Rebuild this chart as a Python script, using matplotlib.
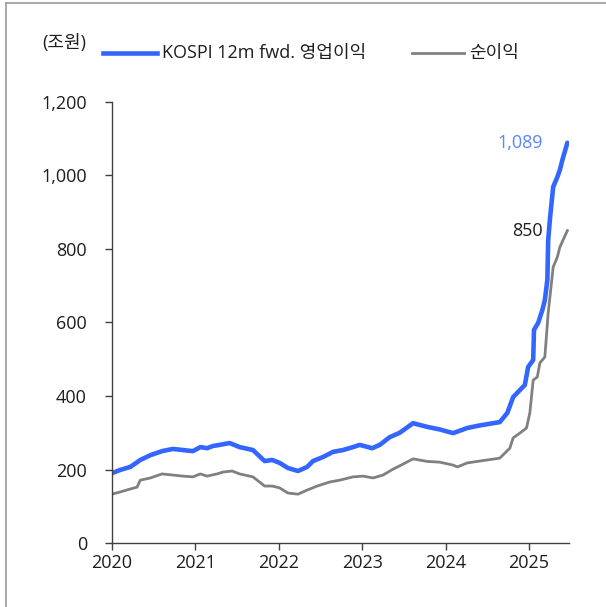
import matplotlib
matplotlib.use('Agg')
import matplotlib.pyplot as plt
from matplotlib.lines import Line2D

plt.rcParams['font.family'] = ['Open Sans', 'Noto Sans CJK KR', 'DejaVu Sans']

# KOSPI 12m fwd operating profit (blue)
op_x = [2020.00, 2020.10, 2020.22, 2020.34, 2020.46, 2020.60, 2020.73, 2020.85, 2020.97,
        2021.06, 2021.14, 2021.21, 2021.29, 2021.41, 2021.53, 2021.69, 2021.83, 2021.92,
        2022.01, 2022.11, 2022.23, 2022.34, 2022.41, 2022.53, 2022.65, 2022.77, 2022.89,
        2022.97, 2023.12, 2023.21, 2023.33, 2023.45, 2023.61, 2023.78, 2023.93, 2024.09,
        2024.26, 2024.41, 2024.57, 2024.65, 2024.74, 2024.81, 2024.89, 2024.95, 2024.99,
        2025.05, 2025.06, 2025.11, 2025.16, 2025.19, 2025.22, 2025.23, 2025.25, 2025.29,
        2025.34, 2025.37, 2025.40, 2025.46]
op_y = [190, 199, 207, 226, 239, 250, 256, 253, 250,
        261, 258, 264, 267, 272, 261, 253, 223, 226,
        218, 204, 196, 207, 223, 234, 248, 253, 261,
        267, 258, 267, 288, 300, 326, 316, 309, 299,
        313, 320, 326, 329, 354, 397, 416, 430, 479,
        498, 580, 599, 634, 661, 716, 824, 879, 969,
        996, 1015, 1042, 1089]

# net profit (gray)
np_x = [2020.00, 2020.10, 2020.22, 2020.30, 2020.34, 2020.46, 2020.60, 2020.73, 2020.85,
        2020.97, 2021.06, 2021.14, 2021.26, 2021.33, 2021.44, 2021.53, 2021.69, 2021.83,
        2021.92, 2022.01, 2022.11, 2022.23, 2022.34, 2022.46, 2022.61, 2022.73, 2022.89,
        2023.01, 2023.13, 2023.25, 2023.37, 2023.45, 2023.61, 2023.78, 2023.93, 2024.09,
        2024.14, 2024.26, 2024.41, 2024.65, 2024.77, 2024.81, 2024.89, 2024.97, 2025.01,
        2025.05, 2025.10, 2025.13, 2025.19, 2025.23, 2025.29, 2025.34, 2025.37, 2025.46]
np_y = [133, 139, 147, 152, 171, 177, 188, 185, 182,
        180, 188, 182, 188, 193, 196, 188, 180, 155,
        155, 150, 136, 133, 144, 155, 166, 171, 180,
        182, 177, 185, 201, 210, 229, 222, 220, 212,
        207, 218, 223, 231, 258, 286, 299, 313, 354,
        443, 452, 490, 506, 626, 751, 778, 805, 850]

years = [2020, 2021, 2022, 2023, 2024, 2025]
yticks = [0, 200, 400, 600, 800, 1000, 1200]

blue = '#3366ff'
gray = '#808080'
txt = '#1e1e1e'

fig = plt.figure(figsize=(6.06, 6.07), dpi=100)
ax = fig.add_axes([0.1848, 0.1054, 0.7542, 0.7266])

ax.plot(op_x, op_y, color=blue, lw=3.3, solid_capstyle='round', solid_joinstyle='round')
ax.plot(np_x, np_y, color=gray, lw=2.0)

ax.set_xlim(2020, 2025.48)
ax.set_ylim(0, 1200)
ax.set_xticks(years)
ax.set_xticklabels([str(y) for y in years])
ax.set_yticks(yticks)
ax.set_yticklabels([f'{v:,}' for v in yticks])
ax.tick_params(direction='out', length=5, width=1, colors='#404040', labelcolor=txt,
               labelsize=13)
ax.tick_params(axis='y', pad=13)
ax.tick_params(axis='x', pad=3)
for s in ['top', 'right']:
    ax.spines[s].set_visible(False)
for s in ['left', 'bottom']:
    ax.spines[s].set_color('#404040')
    ax.spines[s].set_linewidth(1)

# end labels
ax.text(2025.17, op_y[-1], f'{op_y[-1]:,}', color='#5b84ff', fontsize=13,
        ha='right', va='center')
ax.text(2025.17, np_y[-1], f'{np_y[-1]:,}', color=txt, fontsize=13,
        ha='right', va='center')

# unit and legend
fig.text(42 / 606, 1 - 43 / 607, '(조원)', fontsize=13, ha='left', va='center', color=txt)
fig.add_artist(Line2D([103 / 606, 157 / 606], [1 - 53 / 607] * 2, color=blue, lw=3.3))
fig.text(162 / 606, 1 - 53 / 607, 'KOSPI 12m fwd. 영업이익', fontsize=13, ha='left',
         va='center', color=txt)
fig.add_artist(Line2D([412 / 606, 464 / 606], [1 - 53 / 607] * 2, color=gray, lw=2.0))
fig.text(469 / 606, 1 - 53 / 607, '순이익', fontsize=13, ha='left', va='center', color=txt)

# frame lines on left and top
fig.add_artist(Line2D([6 / 606, 6 / 606], [0, 1 - 3 / 607], color='#999999', lw=1.2))
fig.add_artist(Line2D([6 / 606, 1], [1 - 3 / 607] * 2, color='#999999', lw=1.2))

fig.savefig('out.png', dpi=100)
